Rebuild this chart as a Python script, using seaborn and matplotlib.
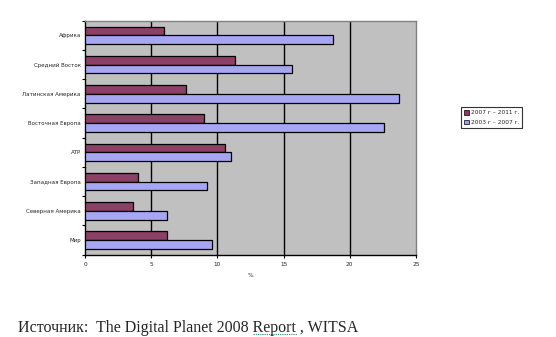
import matplotlib
matplotlib.use("Agg")
import matplotlib.pyplot as plt
from matplotlib.lines import Line2D
import numpy as np
import pandas as pd
import seaborn as sns

regions = ["Африка", "Средний Восток", "Латинская Америка", "Восточная Европа",
           "АТР", "Западная Европа", "Северная Америка", "Мир"]
growth_2007_2011 = [6.0, 11.3, 7.6, 9.0, 10.6, 4.0, 3.6, 6.2]
growth_2003_2007 = [18.7, 15.6, 23.7, 22.6, 11.0, 9.2, 6.2, 9.6]
series_names = ["2007 г – 2011 г.", "2003 г – 2007 г."]
x_ticks = [0, 5, 10, 15, 20, 25]

df = pd.DataFrame({
    "region": regions * 2,
    "value": growth_2007_2011 + growth_2003_2007,
    "period": [series_names[0]] * len(regions) + [series_names[1]] * len(regions),
})

sns.set_style("white")
plt.rcParams["font.family"] = ["DejaVu Sans"]

fig = plt.figure(figsize=(5.56, 3.37), dpi=100)
ax = fig.add_axes([0.1529, 0.2442, 0.5953, 0.6944])
ax.set_facecolor("#C0C0C0")

sns.barplot(data=df, x="value", y="region", hue="period", order=regions,
            hue_order=series_names, palette=["#993366", "#9999FF"],
            width=0.6, edgecolor="black", linewidth=0.9, ax=ax, legend=False,
            errorbar=None, zorder=3)

ax.set_xlim(0, 25)
ax.set_ylim(len(regions) - 0.5, -0.5)
ax.set_xticks(x_ticks)
ax.set_xticklabels([str(t) for t in x_ticks], fontsize=4.2)
ax.set_xlabel("%", fontsize=4.2, labelpad=4)
ax.set_ylabel("")
ax.tick_params(axis="y", labelsize=4.0, length=0, pad=3)
ax.tick_params(axis="x", length=2.5, width=0.8, color="black", pad=3, direction="out")
ax.set_yticks(np.arange(len(regions)))
ax.set_yticklabels(regions)
ax.set_yticks(np.arange(len(regions) + 1) - 0.5, minor=True)
ax.tick_params(axis="y", which="minor", length=2.5, width=0.8, color="black", direction="out")
ax.xaxis.set_ticks_position("bottom")
ax.yaxis.set_ticks_position("left")

for x in x_ticks[1:-1]:
    ax.axvline(x, color="black", lw=1.0, zorder=1)

ax.spines["left"].set_color("black")
ax.spines["bottom"].set_color("black")
ax.spines["top"].set_color("#808080")
ax.spines["right"].set_color("#808080")
for s in ax.spines.values():
    s.set_linewidth(1.0)
    s.set_visible(True)

handles = [plt.Rectangle((0, 0), 1, 1, facecolor=c, edgecolor="black", lw=0.5)
           for c in ["#993366", "#9999FF"]]
leg = fig.legend(handles, series_names, loc="upper left",
                 bbox_to_anchor=(461 / 556, 1 - 107 / 337),
                 fontsize=4.2, frameon=True, fancybox=False, handlelength=0.8,
                 handleheight=0.8, handletextpad=0.3, borderpad=0.55,
                 labelspacing=0.7, borderaxespad=0)
leg.get_frame().set_edgecolor("black")
leg.get_frame().set_linewidth(0.8)

fig.text(18 / 556, 1 - 328 / 337, "Источник:  The Digital Planet 2008 Report , WITSA",
         fontsize=11.5, family=["Liberation Serif"], va="center", ha="left")
fig.add_artist(Line2D([253 / 556, 297 / 556], [1 - 334 / 337, 1 - 334 / 337],
                      color="#2E8B57", lw=0.8, ls=(0, (1, 1))))

fig.savefig("out.png", dpi=100)
